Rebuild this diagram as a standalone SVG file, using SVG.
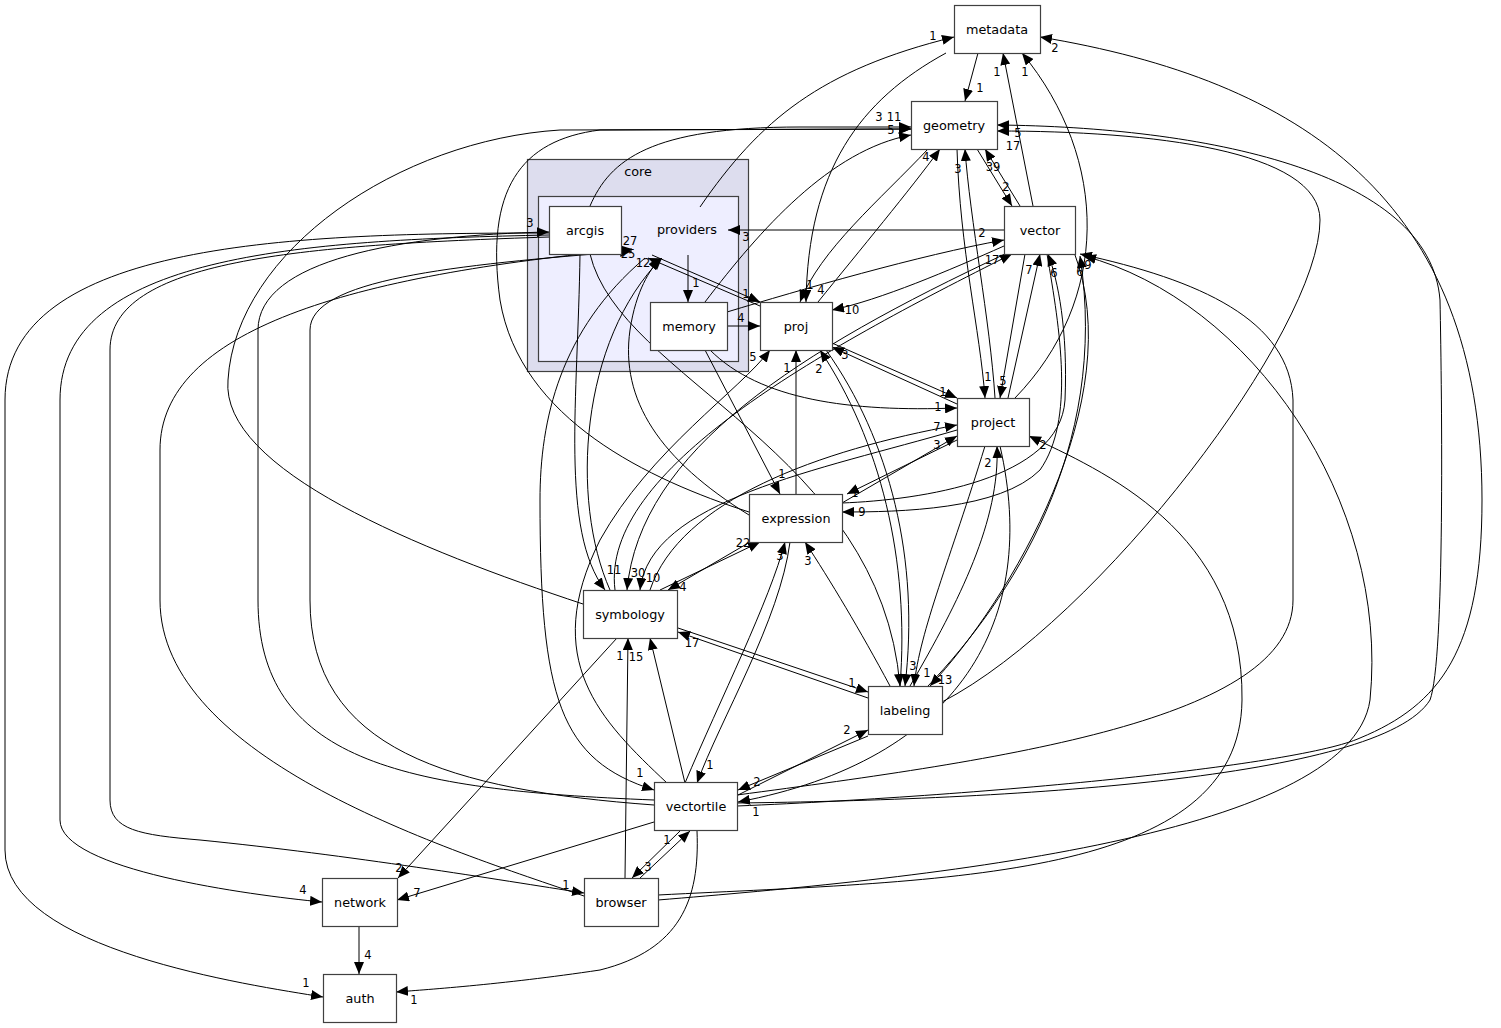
<svg xmlns="http://www.w3.org/2000/svg" width="1501" height="1028" viewBox="0 0 1501 1028">
<defs>
<marker id="ah" markerWidth="12" markerHeight="10" refX="12" refY="5" orient="auto" markerUnits="userSpaceOnUse"><path d="M0,0 L12,5 L0,10 z" fill="#000"/></marker>
<style>
.n rect{fill:#fff;stroke:#404040;stroke-width:1.2}
.n text,.cl text{font-family:"DejaVu Sans","Liberation Sans",sans-serif;font-size:12.8px;text-anchor:middle;fill:#000}
#edges path{fill:none;stroke:#000;stroke-width:1;marker-end:url(#ah)}
#edges text{font-family:"DejaVu Sans","Liberation Sans",sans-serif;font-size:11.5px;text-anchor:middle;fill:#000}
</style>
</defs>
<rect width="1501" height="1028" fill="#fff"/>
<g id="cluster-core" class="cl">
<rect x="527.5" y="159.5" width="221" height="212" fill="#ddddee" stroke="#404040" stroke-width="1.2"/>
<text x="638" y="176">core</text>
</g>
<g id="cluster-providers" class="cl">
<rect x="538.5" y="196.5" width="200" height="165" fill="#eeeeff" stroke="#404040" stroke-width="1.2"/>
<text x="687" y="234">providers</text>
</g>
<g id="edges">
<path d="M700,207 C760,120 820,70 954,37"/><text x="933" y="40">1</text>
<path d="M946,53 C860,100 808,170 806,302"/><text x="810" y="289">1</text>
<path d="M978,53 L965,101"/><text x="980" y="92">1</text>
<path d="M737,806 C1000,795 1300,765 1360,738 C1440,705 1482,650 1482,500 C1482,200 1300,80 1040,37"/><text x="1055" y="52">2</text>
<path d="M1033,206 L1003,53"/><text x="997" y="76">1</text>
<path d="M1015,398 C1110,300 1110,160 1022,53"/><text x="1025" y="76">1</text>
<path d="M590,206 C610,160 650,127 800,127 L911,127"/>
<path d="M749,512 C650,480 520,420 500,300 C485,190 520,140 600,130 L911,129"/>
<path d="M583,604 C420,550 220,470 228,380 C236,250 400,140 560,130 L911,129"/>
<path d="M705,302 C760,230 830,150 911,135"/>
<text x="879" y="121">3</text><text x="894" y="121">11</text><text x="891" y="134">5</text>
<path d="M737,803 C1000,800 1380,780 1430,700 C1445,660 1442,400 1440,300 C1430,170 1200,127 997,125"/><text x="1018" y="137">5</text>
<path d="M942,702 C1100,620 1320,330 1320,220 C1320,150 1150,131 997,131"/><text x="1013" y="150">17</text>
<path d="M1020,206 L985,149"/><text x="993" y="171">39</text>
<path d="M977,149 L1012,206"/><text x="1006" y="191">2</text>
<path d="M957,149 C960,250 980,330 985,398"/><text x="988" y="381">1</text>
<path d="M995,398 C990,320 970,220 965,149"/><text x="958" y="173">3</text>
<path d="M928,149 C880,200 820,250 800,302"/><text x="821" y="294">4</text>
<path d="M818,302 C860,250 910,190 940,149"/><text x="926" y="161">4</text>
<path d="M1004,230 L728,230"/><text x="746" y="241">3</text>
<path d="M727,312 C800,290 920,255 1004,240"/><text x="982" y="237">2</text>
<path d="M1004,246 C950,270 880,300 832,310"/><text x="852" y="314">10</text>
<path d="M615,590 C600,470 820,350 1012,254"/><text x="992" y="264">17</text>
<path d="M1005,254 C800,350 640,450 627,590"/><text x="638" y="577">30</text>
<path d="M957,430 C820,470 650,500 640,590"/><text x="653" y="582">10</text>
<path d="M650,590 C680,500 820,450 957,425"/><text x="937" y="431">7</text>
<path d="M1025,254 L1000,398"/><text x="1003" y="385">5</text>
<path d="M1008,398 L1040,254"/><text x="1029" y="274">7</text>
<path d="M1047,254 C1060,330 1075,420 1040,470 C1000,510 900,512 842,512"/><text x="862" y="516">9</text>
<path d="M842,503 C920,500 1060,480 1065,400 C1068,330 1058,280 1048,254"/><text x="1054" y="277">6</text>
<path d="M928,686 C1010,600 1110,450 1080,256"/><text x="1080" y="276">6</text>
<path d="M1074,252 C1130,400 1010,600 930,686"/><text x="945" y="684">13</text>
<path d="M737,795 C1000,760 1293,720 1293,600 L1293,400 C1290,320 1200,280 1080,254"/><text x="1088" y="269">9</text>
<path d="M658,900 C900,880 1350,840 1370,700 C1390,500 1250,300 1084,256"/>
<path d="M760,306 L648,258"/><text x="643" y="267">12</text>
<path d="M652,255 L760,302"/><text x="746" y="298">1</text>
<path d="M688,255 L688,302"/><text x="696" y="287">1</text>
<path d="M728,326 L760,326"/><text x="741" y="322">4</text>
<path d="M667,783 C600,720 540,660 600,540 C650,450 740,390 770,350"/><text x="753" y="361">5</text>
<path d="M796,494 L796,350"/><text x="787" y="372">1</text>
<path d="M900,686 C910,560 880,440 820,350"/><text x="819" y="373">2</text>
<path d="M826,350 C890,440 920,560 905,686"/><text x="913" y="670">3</text>
<path d="M832,343 L957,398"/><text x="943" y="396">1</text>
<path d="M957,404 L832,347"/><text x="845" y="359">3</text>
<path d="M710,350 C760,400 850,412 957,408"/><text x="938" y="411">1</text>
<path d="M842,503 L957,436"/><text x="937" y="449">3</text>
<path d="M957,440 L847,494"/><text x="855" y="497">1</text>
<path d="M658,895 C950,880 1240,880 1242,700 C1244,530 1100,470 1029,436"/><text x="1043" y="449">2</text>
<path d="M910,686 C960,600 1000,520 997,446"/><text x="988" y="467">2</text>
<path d="M985,446 C950,560 920,630 914,686"/><text x="927" y="677">1</text>
<path d="M1000,446 C1040,620 960,760 738,802"/><text x="756" y="816">1</text>
<path d="M705,350 L780,494"/><text x="782" y="478">1</text>
<path d="M660,590 L760,542"/><text x="743" y="547">22</text>
<path d="M750,542 L668,590"/><text x="683" y="591">4</text>
<path d="M685,783 C720,700 770,600 785,542"/><text x="780" y="560">3</text>
<path d="M790,542 C780,620 720,720 697,783"/><text x="710" y="769">1</text>
<path d="M890,686 C860,630 830,580 805,542"/><text x="808" y="565">3</text>
<path d="M749,515 C660,460 620,400 630,330 C636,290 650,270 660,258"/>
<path d="M580,254 C578,400 560,530 605,590"/><text x="614" y="574">11</text>
<path d="M610,590 C570,500 580,340 662,258"/>
<path d="M678,628 L868,692"/><text x="852" y="687">1</text>
<path d="M868,698 L678,632"/><text x="692" y="647">17</text>
<path d="M617,638 L398,878"/><text x="399" y="872">2</text>
<path d="M625,878 L628,638"/><text x="620" y="660">1</text>
<path d="M685,783 L650,638"/><text x="636" y="661">15</text>
<path d="M738,795 L868,730"/><text x="847" y="734">2</text>
<path d="M868,736 L738,790"/><text x="757" y="786">2</text>
<path d="M590,254 C620,380 880,450 900,686"/>
<path d="M654,822 L397,900"/><text x="417" y="897">7</text>
<path d="M680,831 L632,878"/><text x="648" y="871">3</text>
<path d="M640,878 L690,831"/><text x="667" y="844">1</text>
<path d="M697,831 C700,900 680,950 600,970 C500,985 420,990 396,992"/><text x="414" y="1004">1</text>
<path d="M645,258 C560,330 540,420 540,500 C540,700 560,760 654,790"/><text x="640" y="777">1</text>
<path d="M654,800 C400,790 258,760 258,600 L258,330 C258,260 400,235 549,232"/><text x="530" y="227">3</text>
<path d="M654,805 C450,790 310,750 310,600 L310,330 C310,280 450,265 632,251"/><text x="628" y="258">25</text>
<path d="M584,896 C450,850 160,760 160,600 L160,450 C160,330 350,275 632,249"/><text x="630" y="245">27</text>
<path d="M549,237 C300,245 110,260 110,350 L110,800 C110,830 140,835 200,840 C350,855 500,880 584,893"/><text x="566" y="889">1</text>
<path d="M549,233 C300,233 5,240 5,400 L5,850 C5,950 250,985 323,997"/><text x="306" y="987">1</text>
<path d="M549,235 C300,240 60,255 60,400 L60,820 C60,870 250,895 322,902"/><text x="303" y="894">4</text>
<path d="M359,927 L359,974"/><text x="368" y="959">4</text>
</g>
<g id="node-metadata" class="n"><rect x="954.5" y="5.5" width="86" height="48"/><text x="997" y="34">metadata</text></g>
<g id="node-geometry" class="n"><rect x="911.5" y="101.5" width="86" height="48"/><text x="954" y="130">geometry</text></g>
<g id="node-vector" class="n"><rect x="1004.5" y="206.5" width="71" height="48"/><text x="1040" y="235">vector</text></g>
<g id="node-arcgis" class="n"><rect x="549.5" y="206.5" width="72" height="48"/><text x="585" y="235">arcgis</text></g>
<g id="node-memory" class="n"><rect x="650.5" y="302.5" width="77" height="48"/><text x="689" y="331">memory</text></g>
<g id="node-proj" class="n"><rect x="760.5" y="302.5" width="72" height="48"/><text x="796" y="331">proj</text></g>
<g id="node-project" class="n"><rect x="957.5" y="398.5" width="72" height="48"/><text x="993" y="427">project</text></g>
<g id="node-expression" class="n"><rect x="749.5" y="494.5" width="93" height="48"/><text x="796" y="523">expression</text></g>
<g id="node-symbology" class="n"><rect x="583.5" y="590.5" width="94" height="48"/><text x="630" y="619">symbology</text></g>
<g id="node-labeling" class="n"><rect x="868.5" y="686.5" width="74" height="48"/><text x="905" y="715">labeling</text></g>
<g id="node-vectortile" class="n"><rect x="654.5" y="782.5" width="83" height="48"/><text x="696" y="811">vectortile</text></g>
<g id="node-network" class="n"><rect x="322.5" y="878.5" width="75" height="48"/><text x="360" y="907">network</text></g>
<g id="node-browser" class="n"><rect x="584.5" y="878.5" width="74" height="48"/><text x="621" y="907">browser</text></g>
<g id="node-auth" class="n"><rect x="323.5" y="974.5" width="73" height="48"/><text x="360" y="1003">auth</text></g>
</svg>
